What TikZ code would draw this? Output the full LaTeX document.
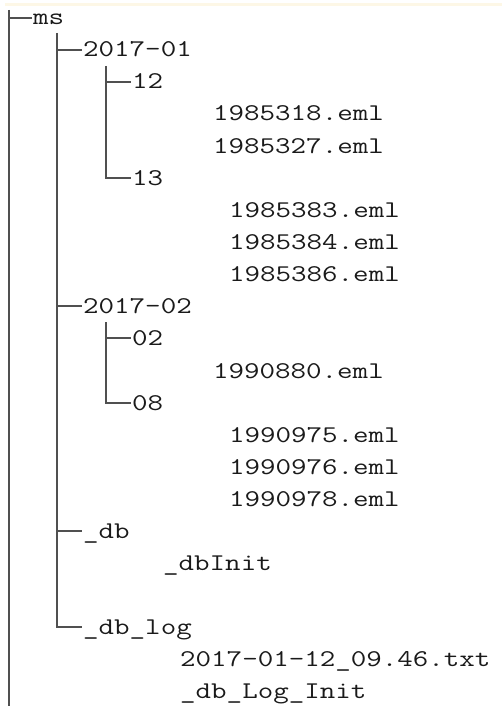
\documentclass[tikz,border=0pt]{standalone}
\usepackage{fontspec}
\newfontfamily\treefont[FakeStretch=1.255]{Latin Modern Mono}
\definecolor{ln}{HTML}{505050}
\definecolor{txt}{HTML}{1A1A1A}
\definecolor{band}{HTML}{FDF7E6}
\begin{document}
\begin{tikzpicture}[x=1pt,y=-1pt,
  item/.style={anchor=west, inner xsep=1pt, inner ysep=0pt, text height=14pt, text depth=0pt,
    font=\treefont\fontsize{24}{28}\selectfont, text=txt},
  branch/.style={draw=ln, line width=1.8pt}]
\useasboundingbox (0,0) rectangle (502,706);
\fill[band] (5,3.5) rectangle (502,6.5);
% nodes
\node[item] (ms) at (32,18) {ms};
\node[item] (y01) at (82,50) {2017-01};
\node[item] (d12) at (131,82) {12};
\node[item] (f318) at (212,114) {1985318.eml};
\node[item] (f327) at (212,146) {1985327.eml};
\node[item] (d13) at (131,178) {13};
\node[item] (f383) at (228,210) {1985383.eml};
\node[item] (f384) at (228,242) {1985384.eml};
\node[item] (f386) at (228,274) {1985386.eml};
\node[item] (y02) at (82,306) {2017-02};
\node[item] (d02) at (131,338) {02};
\node[item] (f880) at (212,371) {1990880.eml};
\node[item] (d08) at (131,403) {08};
\node[item] (f975) at (228,435) {1990975.eml};
\node[item] (f976) at (228,467) {1990976.eml};
\node[item] (f978) at (228,499) {1990978.eml};
\node[item] (db) at (82,531) {\_db};
\node[item] (dbinit) at (162,563) {\_dbInit};
\node[item] (dblog) at (82,627) {\_db\_log};
\node[item] (logtxt) at (179,659) {2017-01-12\_09.46.txt};
\node[item] (loginit) at (179,691) {\_db\_Log\_Init};
% tree lines
\coordinate (rtop) at (9,10);
\coordinate (rbot) at (9,706);
\draw[branch] (rtop) -- (rbot);
\draw[branch] (rtop |- ms.west) -- (ms.west);
\coordinate (v2top) at (57,33);
\draw[branch] (v2top) |- (dblog.west);
\draw[branch] (v2top |- y01.west) -- (y01.west);
\draw[branch] (v2top |- y02.west) -- (y02.west);
\draw[branch] (v2top |- db.west) -- (db.west);
\coordinate (v3atop) at (106,66);
\draw[branch] (v3atop) |- (d13.west);
\draw[branch] (v3atop |- d12.west) -- (d12.west);
\coordinate (v3btop) at (106,322);
\draw[branch] (v3btop) |- (d08.west);
\draw[branch] (v3btop |- d02.west) -- (d02.west);
\end{tikzpicture}
\end{document}
